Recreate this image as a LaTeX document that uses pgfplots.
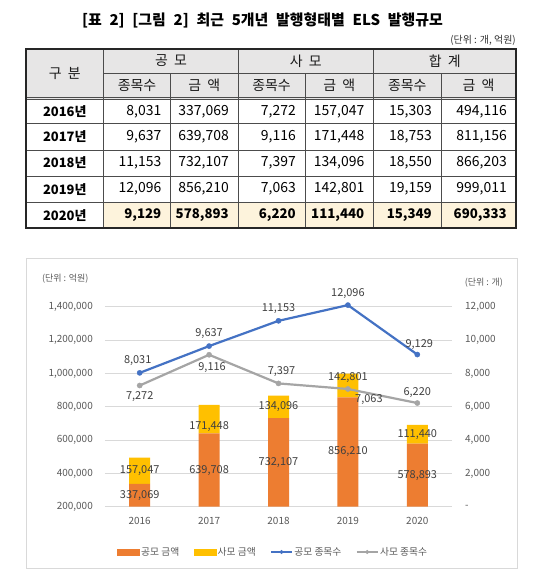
\documentclass[border=0pt]{standalone}
\usepackage{fontspec}
\setmainfont{Noto Sans CJK KR}
\usepackage{pgfplots}
\usepackage{pgfplotstable}
\pgfplotsset{compat=1.18}
\definecolor{orangeC}{HTML}{ED7D31}
\definecolor{yellowC}{HTML}{FFC000}
\definecolor{blueC}{HTML}{4472C4}
\definecolor{grayC}{HTML}{A5A5A5}
\definecolor{gridC}{HTML}{D9D9D9}
\definecolor{tickC}{HTML}{595959}
\definecolor{labC}{HTML}{404040}
\definecolor{hdrC}{HTML}{E7E6E6}
\definecolor{creamC}{HTML}{FDF3DC}
\newcommand\fs[1]{\fontsize{#1}{#1}\selectfont}
\pgfplotsset{
  lineleg/.style={legend image code/.code={\draw[mark repeat=2,mark phase=2,##1, line width=1.6bp, mark size=1.8bp] plot coordinates {(0bp,0bp) (10.5bp,0bp) (21bp,0bp)};}},
  lablines/.style={draw=none, mark=none, forget plot, nodes near coords, point meta=explicit symbolic,
    nodes near coords align=center,
    visualization depends on={\thisrow{dx}\as\dx},
    visualization depends on={\thisrow{dy}\as\dy},
    every node near coord/.append style={font=\fs{11}, text=labC, inner sep=0pt, xshift=\dx bp, yshift=\dy bp}},
}

\pgfplotstableread{
x pub pri
0 337069 157047
1 639708 171448
2 732107 134096
3 856210 142801
4 578893 111440
}\amt

\pgfplotstableread{
x pub pri
0 8031 7272
1 9637 9116
2 11153 7397
3 12096 7063
4 9129 6220
}\cnt

\pgfplotstableread{
x y lab dx dy
0 8031 8,031 -2 12
1 9637 9,637 0 13
2 11153 11,153 0 12
3 12096 12,096 0 12
4 9129 9,129 2 10
}\cntpublab

\pgfplotstableread{
x y lab dx dy
0 7272 7,272 0 -11
1 9116 9,116 3 -13
2 7397 7,397 3 12
3 7063 7,063 21 -11
4 6220 6,220 0 10
}\cntprilab

\pgfplotstableread{
x y lab
0 268535 337,069
1 419854 639,708
2 466054 732,107
3 528105 856,210
4 389447 578,893
0 415593 157,047
1 680000 171,448
2 799155 134,096
3 975000 142,801
4 634613 111,440
}\amtlab

\newcommand\trow[9]{%
  \node[font=\fs{13}\bfseries, inner sep=0pt] at (64.75bp,-#1bp) {#2};
  \node[anchor=east, inner sep=0pt, font=\fs{14}#9] at (161.5bp,-#1bp) {#3};
  \node[anchor=east, inner sep=0pt, font=\fs{14}#9] at (229bp,-#1bp) {#4};
  \node[anchor=east, inner sep=0pt, font=\fs{14}#9] at (296bp,-#1bp) {#5};
  \node[anchor=east, inner sep=0pt, font=\fs{14}#9] at (364.5bp,-#1bp) {#6};
  \node[anchor=east, inner sep=0pt, font=\fs{14}#9] at (432bp,-#1bp) {#7};
  \node[anchor=east, inner sep=0pt, font=\fs{14}#9] at (507bp,-#1bp) {#8};
}

\begin{document}
\begin{tikzpicture}
\useasboundingbox (0,0) rectangle (540bp,-584bp);
\fill[white] (0,0) rectangle (540bp,-584bp);
% title
\node[font=\fs{15}\bfseries, text=black] at (262.5bp,-20bp) {\spaceskip=0.52em\relax [표 2] [그림 2] 최근 5개년 발행형태별 ELS 발행규모};
\node[font=\fs{10}, anchor=east, inner sep=0pt, text=black!80] at (516bp,-40bp) {(단위 : 개, 억원)};
% table fills
\fill[hdrC] (26bp,-49bp) rectangle (516bp,-99.5bp);
\fill[creamC] (103.5bp,-202.5bp) rectangle (516bp,-228bp);
\begin{scope}[line width=0.6bp, draw=black!70]
  \draw (103.5bp,-73bp) -- (516bp,-73bp);
  \draw (26bp,-97bp) -- (516bp,-97bp);
  \draw (26bp,-99.5bp) -- (516bp,-99.5bp);
  \foreach \y in {123.5,150,176,202.5} \draw (26bp,-\y bp) -- (516bp,-\y bp);
  \foreach \x in {103.5,238,373.5} \draw (\x bp,-49bp) -- (\x bp,-228bp);
  \foreach \x in {170.5,305,441} \draw (\x bp,-73bp) -- (\x bp,-228bp);
\end{scope}
\draw[line width=1.6bp, black!85] (26bp,-49bp) rectangle (516bp,-228bp);
% header text
\begin{scope}[font=\fs{14}, text=black!90]
  \node at (64.75bp,-73bp) {구\hspace{0.45em}분};
  \node at (171bp,-61bp) {공\hspace{0.45em}모};
  \node at (305.75bp,-61bp) {사\hspace{0.45em}모};
  \node at (444.75bp,-61bp) {합\hspace{0.45em}계};
  \node at (137bp,-85bp) {종목수};
  \node at (204.25bp,-85bp) {금\hspace{0.45em}액};
  \node at (271.5bp,-85bp) {종목수};
  \node at (339.25bp,-85bp) {금\hspace{0.45em}액};
  \node at (407.25bp,-85bp) {종목수};
  \node at (478.5bp,-85bp) {금\hspace{0.45em}액};
\end{scope}
\trow{111.5}{2016년}{8,031}{337,069}{7,272}{157,047}{15,303}{494,116}{}
\trow{136.75}{2017년}{9,637}{639,708}{9,116}{171,448}{18,753}{811,156}{}
\trow{163}{2018년}{11,153}{732,107}{7,397}{134,096}{18,550}{866,203}{}
\trow{189.25}{2019년}{12,096}{856,210}{7,063}{142,801}{19,159}{999,011}{}
\trow{215.25}{2020년}{9,129}{578,893}{6,220}{111,440}{15,349}{690,333}{\bfseries\fs{13.3}}
% chart frame
\draw[gridC, line width=0.75bp] (26bp,-258bp) rectangle (517bp,-568bp);
\node[font=\fs{9}, text=tickC, anchor=west, inner sep=0pt] at (42bp,-279bp) {(단위 : 억원)};
\node[font=\fs{9}, text=tickC, anchor=east, inner sep=0pt] at (503bp,-283bp) {(단위 : 개)};

\begin{axis}[
  at={(105bp,-506.7bp)}, anchor=south west, scale only axis,
  width=347bp, height=200bp,
  xmin=-0.5, xmax=4.5, ymin=200000, ymax=1400000,
  ybar stacked, bar width=21bp,
  axis line style={draw=none}, major tick length=0pt,
  ymajorgrids, grid style={gridC, line width=0.75bp},
  xtick={0,1,2,3,4}, xticklabels={2016,2017,2018,2019,2020},
  ytick={200000,400000,600000,800000,1000000,1200000,1400000},
  scaled y ticks=false,
  /pgf/number format/fixed, /pgf/number format/1000 sep={,},
  /pgf/number format/assume math mode=true,
  tick label style={font=\fs{10}, text=tickC},
  yticklabel style={anchor=east, inner sep=0pt, xshift=-12bp},
  xticklabel style={anchor=center, inner sep=0pt, yshift=-14bp},
]
\addplot[fill=orangeC, draw=none] table[x=x,y=pub]{\amt};
\addplot[fill=yellowC, draw=none] table[x=x,y=pri]{\amt};
\end{axis}

\begin{axis}[
  at={(105bp,-506.7bp)}, anchor=south west, scale only axis,
  width=347bp, height=200bp,
  xmin=-0.5, xmax=4.5, ymin=0, ymax=12000,
  axis x line=none, axis y line*=right, axis line style={draw=none},
  major tick length=0pt, clip=false, scaled y ticks=false,
  ytick={0,2000,4000,6000,8000,10000,12000},
  yticklabels={{-},{2,000},{4,000},{6,000},{8,000},{10,000},{12,000}},
  tick label style={font=\fs{10}, text=tickC},
  yticklabel style={anchor=west, inner sep=0pt, xshift=13bp},
  legend style={at={(0.484,-0.2265)}, anchor=center, draw=none, fill=none,
    font=\fs{9.8}, text=tickC, inner sep=0pt,
    /tikz/every even column/.append style={column sep=13bp},
    nodes={inner xsep=1.5bp, inner ysep=0pt}},
  legend columns=4,
]
\addlegendimage{legend image code/.code={\fill[orangeC] (0bp,-3bp) rectangle (22bp,3bp);}}
\addlegendentry{공모 금액}
\addlegendimage{legend image code/.code={\fill[yellowC] (0bp,-3bp) rectangle (22bp,3bp);}}
\addlegendentry{사모 금액}
\addplot[blueC, line width=2.2bp, mark=*, mark size=2.6bp,
  mark options={fill=blueC, draw=blueC, line width=0.4bp}, lineleg]
  table[x=x,y=pub]{\cnt};
\addlegendentry{공모 종목수}
\addplot[grayC, line width=2.2bp, mark=*, mark size=2.6bp,
  mark options={fill=grayC, draw=grayC, line width=0.4bp}, lineleg]
  table[x=x,y=pri]{\cnt};
\addlegendentry{사모 종목수}
\addplot[lablines] table[x=x,y=y,meta=lab]{\cntpublab};
\addplot[lablines] table[x=x,y=y,meta=lab]{\cntprilab};
\end{axis}

\begin{axis}[
  at={(105bp,-506.7bp)}, anchor=south west, scale only axis,
  width=347bp, height=200bp,
  xmin=-0.5, xmax=4.5, ymin=200000, ymax=1400000,
  hide axis, clip=false,
]
\addplot[draw=none, mark=none, nodes near coords, point meta=explicit symbolic,
  nodes near coords align=center,
  every node near coord/.append style={font=\fs{11}, text=labC, inner sep=0pt}]
  table[x=x,y=y,meta=lab]{\amtlab};
\end{axis}
\end{tikzpicture}
\end{document}
